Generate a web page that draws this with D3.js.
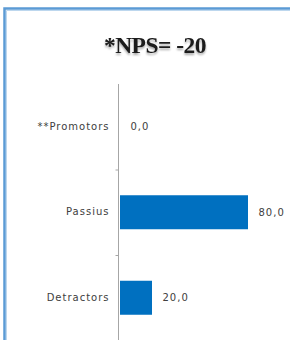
<!DOCTYPE html>
<html><head><meta charset="utf-8">
<script src="https://cdn.jsdelivr.net/npm/d3@7"></script>
<style>body{margin:0;background:#fff}svg{display:block}</style>
</head><body>
<script>
const categories = ["**Promotors", "Passius", "Detractors"];
const values = [0, 80, 20];
const labels = ["0,0", "80,0", "20,0"];
const title = "*NPS= -20";

const W = 290, H = 340;
const svg = d3.select("body").append("svg").attr("width", W).attr("height", H);
svg.append("defs").append("filter").attr("id","sh")
  .html('<feGaussianBlur in="SourceAlpha" stdDeviation="1.2"/><feOffset dx="0" dy="2" result="o"/><feComponentTransfer><feFuncA type="linear" slope="0.35"/></feComponentTransfer><feMerge><feMergeNode/><feMergeNode in="SourceGraphic"/></feMerge>');

// frame
svg.append("path").attr("d", `M4.5,${H+5} V8.5 H${W+5}`).attr("fill","none")
  .attr("stroke","#5b9bd5").attr("stroke-width",2.5);
svg.append("path").attr("d", `M6.5,${H+5} V10.5 H${W+5}`).attr("fill","none")
  .attr("stroke","#bdd7ee").attr("stroke-width",1);

svg.append("text").attr("x",155).attr("y",53).attr("text-anchor","middle")
  .attr("font-family","Liberation Serif").attr("font-weight","bold")
  .attr("font-size",23.5).attr("letter-spacing","-0.5").attr("fill","#1a1a1a")
  .attr("filter","url(#sh)").text(title);

const x0 = 118.5;
const x = d3.scaleLinear().domain([0, 100]).range([x0, x0 + 160]);
const yb = d3.scaleBand().domain(categories).range([84, 340.5]);

const ax = svg.append("g").attr("transform",`translate(${x0},0)`)
  .call(d3.axisLeft(yb).tickSize(0).tickPadding(9));
ax.select(".domain").remove();
svg.append("line").attr("x1",x0).attr("x2",x0).attr("y1",84).attr("y2",340.5).attr("stroke","#a6a6a6");
svg.selectAll(".tk").data(categories.slice(1)).enter().append("line")
  .attr("x1",x0-3).attr("x2",x0).attr("y1",d=>yb(d)+0.5).attr("y2",d=>yb(d)+0.5).attr("stroke","#a6a6a6");
ax.selectAll("text").attr("font-family","DejaVu Sans").attr("font-size",10)
  .attr("letter-spacing","1").attr("fill","#404040");

svg.selectAll(".bar").data(values).enter().append("rect")
  .attr("x", x0+1.5).attr("y",(d,i)=>yb(categories[i]) + yb.bandwidth()/2 - 17)
  .attr("width",d=>Math.max(0, x(d)-x0)).attr("height",34)
  .attr("fill",d=>d>0?"#0070c0":"none");

svg.selectAll(".lbl").data(values).enter().append("text")
  .attr("x",(d,i)=>x(d)+12).attr("y",(d,i)=>yb(categories[i]) + yb.bandwidth()/2)
  .attr("dy","0.35em").attr("font-family","DejaVu Sans").attr("font-size",10)
  .attr("letter-spacing","1").attr("fill","#404040")
  .text((d,i)=>labels[i]);
</script>
</body></html>
